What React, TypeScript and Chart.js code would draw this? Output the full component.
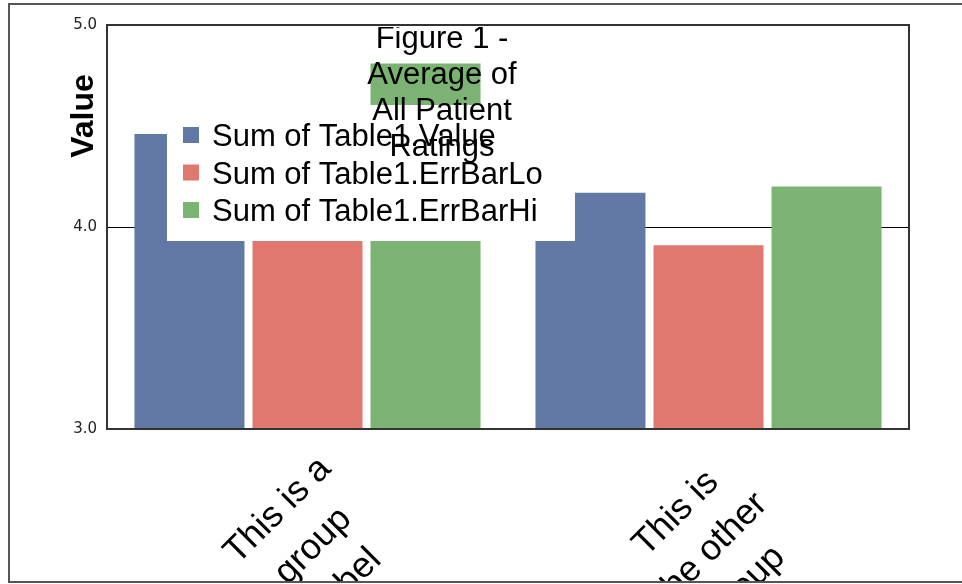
import React, { useEffect, useRef } from "react";
import { Chart, registerables } from "chart.js";

Chart.register(...registerables);

// ---- data ----
const categories: string[][] = [
  ["This is a", "group", "label"],
  ["This is", "the other", "group"],
];
const seriesNames = ["Sum of Table1.Value", "Sum of Table1.ErrBarLo", "Sum of Table1.ErrBarHi"];
const valueSeries = [4.46, 4.17];
const errBarLoSeries = [4.11, 3.91];
const errBarHiSeries = [4.81, 4.2];
const seriesColors = ["#6279A5", "#E07870", "#7BB372"];
const titleLines = ["Figure 1 -", "Average of", "All Patient", "Ratings"];
const yTicks = [3, 4, 5];
const yAxisTitle = "Value";

const FONT = '"Liberation Sans", Arial, sans-serif';

const decorPlugin = {
  id: "decor",
  beforeDraw(chart: any) {
    const ctx = chart.ctx;
    ctx.save();
    ctx.fillStyle = "#fff";
    ctx.fillRect(0, 0, chart.width, chart.height);
    ctx.restore();
  },
  afterDatasetsDraw(chart: any) {
    const { ctx, chartArea: ca, scales } = chart;
    ctx.save();

    // legend box inside plot
    const lx = ca.left + 60;
    const ly = ca.top + 80;
    ctx.fillStyle = "#fff";
    ctx.fillRect(lx, ly, 408, 136);
    ctx.font = `31px ${FONT}`;
    ctx.textAlign = "left";
    ctx.textBaseline = "alphabetic";
    chart.data.datasets.forEach((ds: any, i: number) => {
      const cy = ly + 30 + i * 37.5;
      ctx.fillStyle = ds.backgroundColor;
      ctx.fillRect(lx + 16, cy - 8, 16, 16);
      ctx.fillStyle = "#000";
      ctx.fillText(ds.label, lx + 45, cy + 11);
    });

    // plot border
    ctx.strokeStyle = "#333";
    ctx.lineWidth = 2;
    ctx.strokeRect(ca.left, ca.top, ca.right - ca.left, ca.bottom - ca.top);

    // title (clipped at top of plot)
    ctx.save();
    ctx.beginPath();
    ctx.rect(0, ca.top + 2, chart.width, chart.height);
    ctx.clip();
    ctx.font = `31px ${FONT}`;
    ctx.fillStyle = "#000";
    ctx.textAlign = "center";
    titleLines.forEach((t, i) => {
      ctx.fillText(t, 442, 48 + i * 36);
    });
    ctx.restore();

    // x labels
    ctx.save();
    ctx.beginPath();
    ctx.rect(0, ca.bottom + 2, chart.width, 582 - ca.bottom - 3);
    ctx.clip();
    ctx.font = `36px ${FONT}`;
    ctx.fillStyle = "#000";
    ctx.textAlign = "center";
    const xs = scales.x;
    categories.forEach((lines, i) => {
      const cx = xs.getPixelForValue(i);
      const W = Math.max(...lines.map((l) => ctx.measureText(l).width));
      ctx.save();
      ctx.translate(cx + 1.5, ca.bottom + 18);
      ctx.rotate(-Math.PI / 4);
      lines.forEach((l, j) => ctx.fillText(l, -W / 2, 33 + j * 50));
      ctx.restore();
    });
    ctx.restore();

    // y axis title
    ctx.save();
    ctx.font = `bold 32px ${FONT}`;
    ctx.fillStyle = "#000";
    ctx.textAlign = "center";
    ctx.translate(93, 116);
    ctx.rotate(-Math.PI / 2);
    ctx.fillText(yAxisTitle, 0, 0);
    ctx.restore();

    // outer frame
    ctx.strokeStyle = "#555";
    ctx.lineWidth = 2;
    ctx.strokeRect(9, 4, 1000, 578);

    ctx.restore();
  },
};

export default function App() {
  const ref = useRef<HTMLCanvasElement | null>(null);
  useEffect(() => {
    document.body.style.margin = "0";
    const canvas = ref.current;
    if (!canvas) return;
    const chart = new Chart(canvas, {
      type: "bar",
      data: {
        labels: categories,
        datasets: [valueSeries, errBarLoSeries, errBarHiSeries].map((d, i) => ({
          label: seriesNames[i],
          data: d,
          backgroundColor: seriesColors[i],
          borderWidth: 0,
          categoryPercentage: 0.883,
          barPercentage: 0.932,
        })),
      },
      options: {
        animation: false,
        responsive: false,
        layout: { padding: { top: 25, right: 53, left: 0, bottom: 0 } },
        plugins: {
          legend: { display: false },
          title: { display: false },
          tooltip: { enabled: false },
        },
        scales: {
          x: {
            grid: { display: false },
            border: { display: false },
            ticks: { display: false },
            afterFit: (s: any) => {
              s.height = 155;
            },
          },
          y: {
            min: 3,
            max: 5,
            afterBuildTicks: (s: any) => {
              s.ticks = yTicks.map((v) => ({ value: v }));
            },
            ticks: {
              callback: (v: any) => Number(v).toFixed(1),
              padding: 10,
              color: "#222",
              font: { family: "DejaVu Sans", size: 15 },
            },
            grid: { color: "#000", lineWidth: 1, drawTicks: false },
            border: { display: false },
            afterFit: (s: any) => {
              s.width = 107;
            },
          },
        },
      },
      plugins: [decorPlugin],
    } as any);
    return () => chart.destroy();
  }, []);
  return (
    <div style={{ width: 962, height: 584 }}>
      <canvas ref={ref} width={962} height={584} style={{ display: "block" }} />
    </div>
  );
}
